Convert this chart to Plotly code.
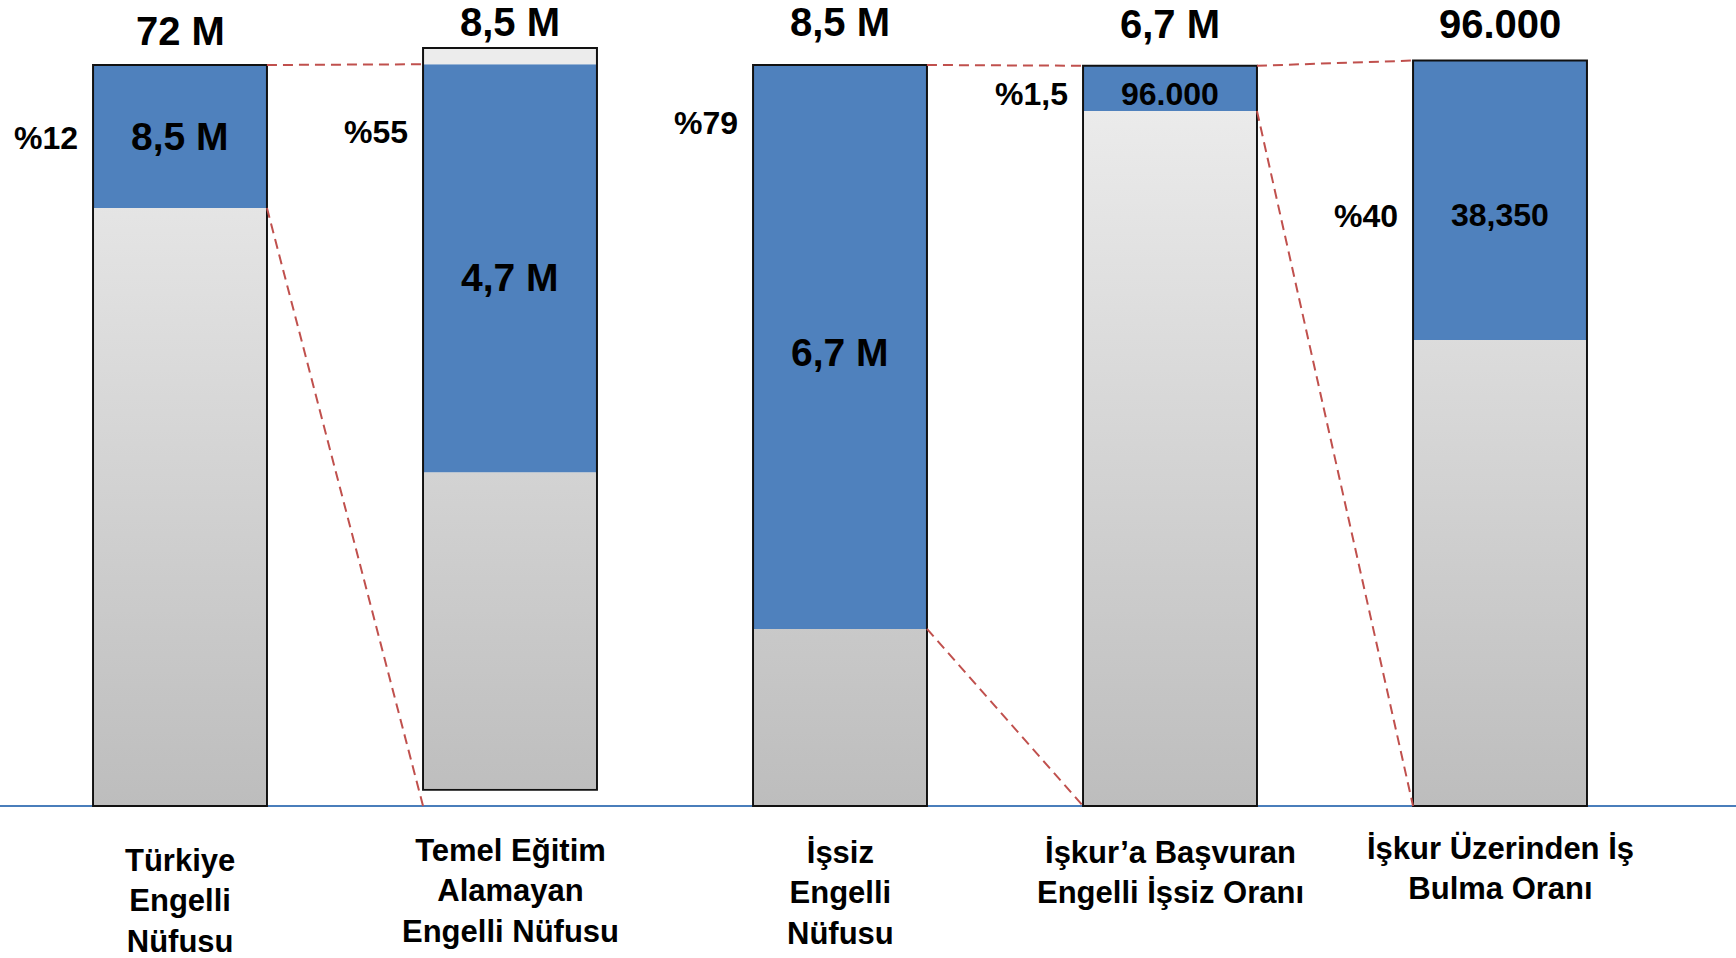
import plotly.graph_objects as go

# ---------------- data ----------------
categories = [
    "Türkiye<br>Engelli<br>Nüfusu",
    "Temel Eğitim<br>Alamayan<br>Engelli Nüfusu",
    "İşsiz<br>Engelli<br>Nüfusu",
    "İşkur’a Başvuran<br>Engelli İşsiz Oranı",
    "İşkur Üzerinden İş<br>Bulma Oranı",
]
total_labels = ["72 M", "8,5 M", "8,5 M", "6,7 M", "96.000"]
highlight_labels = ["8,5 M", "4,7 M", "6,7 M", "96.000", "38,350"]
percent_labels = ["%12", "%55", "%79", "%1,5", "%40"]

# drawn shares of each bar (percent of bar height)
rest_share = [80.7, 42.8, 23.9, 93.8, 62.9]       # grey part (bottom)
highlight_share = [19.3, 55.1, 76.1, 6.1, 37.7]   # blue part
cap_share = [0.0, 2.2, 0.0, 0.0, 0.0]             # light cap on top
bar_base = [0.0, 2.2, 0.0, 0.0, 0.0]              # bar floating above baseline

# which bars' blue part is "zoomed" into the next bar
connectors = [(0, 1), (2, 3), (3, 4)]

# ---------------- style ----------------
FONT = "Liberation Sans, Arial, sans-serif"
BLUE = "#4f81bd"
GREY = "#d2d2d2"
CAP = "#ececec"
RED = "#c0504d"
BASELINE = "#4a7ebb"
W = 0.527
H = 958
WIDTH = 1736
PX_X = 330.0     # pixels per x unit
PX_Y = 7.41      # pixels per y unit
Y0 = 806         # pixel row of the baseline
X0 = 180         # pixel column of the first bar centre

xs = list(range(len(categories)))
rest_top = [b + r for b, r in zip(bar_base, rest_share)]
hl_top = [t + h for t, h in zip(rest_top, highlight_share)]
totals = [r + h + c for r, h, c in zip(rest_share, highlight_share, cap_share)]

fig = go.Figure()

fig.add_trace(go.Bar(x=xs, y=rest_share, base=bar_base, width=W,
                     marker=dict(color=GREY, line=dict(width=0)),
                     hoverinfo="skip", showlegend=False))
fig.add_trace(go.Bar(x=xs, y=highlight_share, base=rest_top, width=W,
                     marker=dict(color=BLUE, line=dict(width=0)),
                     hoverinfo="skip", showlegend=False))
fig.add_trace(go.Bar(x=xs, y=cap_share, base=hl_top, width=W,
                     marker=dict(color=CAP, line=dict(width=0)),
                     hoverinfo="skip", showlegend=False))
# outline of each whole bar
fig.add_trace(go.Bar(x=xs, y=totals, base=bar_base, width=W,
                     marker=dict(color="rgba(0,0,0,0)",
                                 line=dict(color="#111111", width=2)),
                     hoverinfo="skip", showlegend=False))

# vertical grey gradient shading of the grey parts (inset by 1px inside the outline)
gx, gy = [], []
for i in xs:
    a = xs[i] - W / 2 + 1 / PX_X
    b = xs[i] + W / 2 - 1 / PX_X
    lo = bar_base[i] + 1 / PX_Y
    hi = rest_top[i]
    gx += [a, b, b, a, a, None]
    gy += [lo, lo, hi, hi, lo, None]
fig.add_trace(go.Scatter(
    x=gx, y=gy, mode="lines", fill="toself", line=dict(width=0),
    fillgradient=dict(type="vertical", start=0, stop=100,
                      colorscale=[[0, "#bdbdbd"], [1, "#eeeeee"]]),
    hoverinfo="skip", showlegend=False))

# dashed connector lines
for i, j in connectors:
    fig.add_trace(go.Scatter(
        x=[xs[i] + W / 2, xs[j] - W / 2], y=[hl_top[i], hl_top[j]],
        mode="lines", line=dict(color=RED, width=2, dash="10px,6px"),
        hoverinfo="skip", showlegend=False))
    fig.add_trace(go.Scatter(
        x=[xs[i] + W / 2, xs[j] - W / 2], y=[rest_top[i], 0],
        mode="lines", line=dict(color=RED, width=2, dash="10px,6px"),
        hoverinfo="skip", showlegend=False))

# ---------------- text ----------------
def yp(px):
    return 1 - px / H

top_y = [31, 22, 22, 24, 24]
inner_y = [137, 277, 353, 94, 215]
inner_size = [39, 39, 39, 32, 32]
pct_y = [138, 132, 123, 94, 216]
cat_y = [901, 891, 893, 872, 868]

ann = []
for i in xs:
    ann.append(dict(x=xs[i], y=yp(top_y[i]), xref="x", yref="paper",
                    text=total_labels[i], showarrow=False,
                    font=dict(family=FONT, size=40, color="black", weight="bold"),
                    xanchor="center", yanchor="middle"))
    ann.append(dict(x=xs[i], y=yp(inner_y[i]), xref="x", yref="paper",
                    text=highlight_labels[i], showarrow=False,
                    font=dict(family=FONT, size=inner_size[i], color="black", weight="bold"),
                    xanchor="center", yanchor="middle"))
    ann.append(dict(x=xs[i] - W / 2, y=yp(pct_y[i]), xref="x", yref="paper",
                    text=percent_labels[i], showarrow=False, xshift=-13,
                    font=dict(family=FONT, size=32, color="black", weight="bold"),
                    xanchor="right", yanchor="middle"))
    ann.append(dict(x=xs[i], y=yp(cat_y[i]), xref="x", yref="paper",
                    text=categories[i], showarrow=False,
                    font=dict(family=FONT, size=31, color="black", weight="bold"),
                    xanchor="center", yanchor="middle", align="center"))

fig.update_layout(
    width=WIDTH, height=H,
    margin=dict(l=0, r=0, t=0, b=0),
    paper_bgcolor="white", plot_bgcolor="white",
    barmode="overlay",
    showlegend=False,
    annotations=ann,
    xaxis=dict(range=[-X0 / PX_X, (WIDTH - X0) / PX_X], showgrid=False,
               zeroline=False, showticklabels=False, showline=False,
               fixedrange=True),
    yaxis=dict(range=[-(H - Y0) / PX_Y, Y0 / PX_Y], showgrid=False,
               zeroline=True, zerolinecolor=BASELINE, zerolinewidth=2,
               showticklabels=False, showline=False, fixedrange=True),
)

fig.write_html(
    "out.html",
    config={"displayModeBar": False},
    post_script="document.body.style.margin='0';document.body.style.overflow='hidden';",
)
